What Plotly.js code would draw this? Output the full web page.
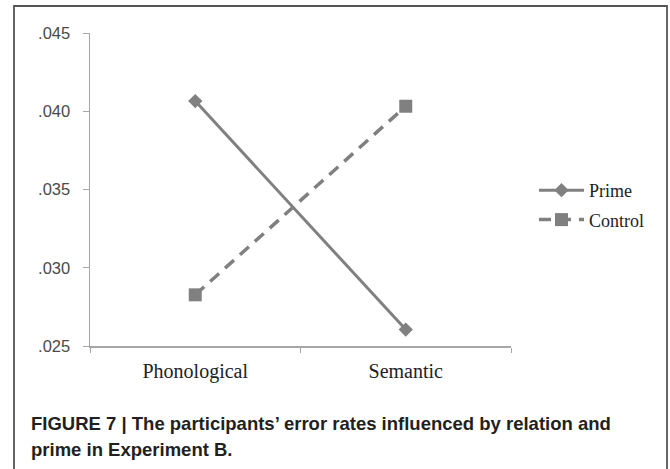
<!DOCTYPE html>
<html>
<head>
<meta charset="utf-8">
<script src="https://cdn.plot.ly/plotly-3.0.1.min.js"></script>
<style>html,body{margin:0;padding:0;background:#fff;}#chart{width:670px;height:469px;}</style>
</head>
<body>
<div id="chart"></div>
<script>
var categories = ["Phonological", "Semantic"];
var primeValues = [0.04065, 0.02605];
var controlValues = [0.02827, 0.04032];
var yTickVals = [0.025, 0.030, 0.035, 0.040, 0.045];
var yTickText = [".025", ".030", ".035", ".040", ".045"];
var seriesNames = ["Prime", "Control"];
var captionLines = ["FIGURE 7 | The participants\u2019 error rates influenced by relation and", "prime in Experiment B."];

var L = 90, R = 511, T = 33, B = 346, W = 670, H = 469;
var pw = R - L, ph = B - T;
function px(x){ return (x - L) / pw; }
function py(y){ return (B - y) / ph; }

var grey = "#808080";
var traces = [
  {x: categories, y: primeValues, name: seriesNames[0], type: "scatter", mode: "lines+markers",
   legendgroup: "a",
   line: {color: grey, width: 3}, marker: {symbol: "diamond", size: 11, color: grey}},
  {x: categories, y: controlValues, name: seriesNames[1], type: "scatter", mode: "lines+markers",
   legendgroup: "b",
   line: {color: grey, width: 3.5, dash: "12px,8px"}, marker: {symbol: "square", size: 13, color: grey}}
];

var layout = {
  width: W, height: H,
  margin: {l: L, r: W - R, t: T, b: H - B, pad: 0},
  paper_bgcolor: "#fff", plot_bgcolor: "#fff",
  showlegend: true,
  legend: {x: px(534), y: py(172), xanchor: "left", yanchor: "top", traceorder: "grouped",
           tracegroupgap: 3, itemwidth: 45, bgcolor: "rgba(0,0,0,0)",
           font: {family: "Liberation Serif, Times New Roman, serif", size: 18, color: "#222"}},
  xaxis: {type: "category", range: [-0.5, 1.5], showline: true, linecolor: "#a6a6a6", linewidth: 1.5,
          ticks: "outside", tickson: "boundaries", ticklen: 5, tickcolor: "#a6a6a6", tickwidth: 1,
          showgrid: false, zeroline: false, fixedrange: true, ticklabelstandoff: 6,
          tickfont: {family: "Liberation Serif, Times New Roman, serif", size: 20, color: "#222"}},
  yaxis: {range: [0.025, 0.045], tickvals: yTickVals, ticktext: yTickText, showline: true,
          linecolor: "#a6a6a6", linewidth: 1.5, ticks: "outside", ticklen: 6, tickcolor: "#a6a6a6",
          tickwidth: 1, showgrid: false, zeroline: false, ticklabelstandoff: 9,
          tickfont: {family: "Liberation Sans, Arial, sans-serif", size: 16.5, color: "#4a4a4a"}},
  shapes: [
    {type: "rect", xref: "paper", yref: "paper", x0: px(14), x1: px(667), y0: py(6), y1: py(475),
     line: {color: "#555", width: 1.8}, fillcolor: "rgba(0,0,0,0)", layer: "below"}
  ],
  annotations: [
    {xref: "paper", yref: "paper", x: px(29), y: py(424), xanchor: "left", yanchor: "middle",
     text: captionLines[0], showarrow: false,
     font: {family: "Liberation Sans, Arial, sans-serif", size: 18.5, color: "#231f20", weight: "bold"}},
    {xref: "paper", yref: "paper", x: px(29), y: py(450), xanchor: "left", yanchor: "middle",
     text: captionLines[1], showarrow: false,
     font: {family: "Liberation Sans, Arial, sans-serif", size: 18.5, color: "#231f20", weight: "bold"}}
  ]
};

Plotly.newPlot("chart", traces, layout, {displayModeBar: false, staticPlot: true});
</script>
</body>
</html>
